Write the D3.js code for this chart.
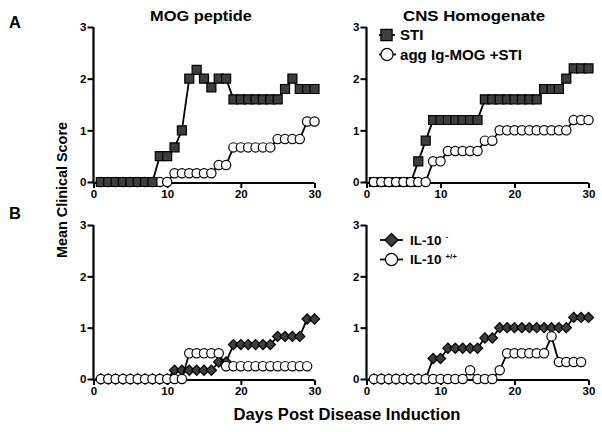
<!DOCTYPE html>
<html><head><meta charset="utf-8">
<script src="https://cdn.jsdelivr.net/npm/d3@7"></script>
<style>body{margin:0;background:#fff}svg{display:block}text{font-family:"Liberation Sans",Arial,sans-serif;font-weight:bold}</style>
</head><body>
<svg id="c" width="602" height="432"></svg>
<script>
// Data (days post induction, mean clinical score)
const days30 = [1,2,3,4,5,6,7,8,9,10,11,12,13,14,15,16,17,18,19,20,21,22,23,24,25,26,27,28,29,30];
const days29 = [1,2,3,4,5,6,7,8,9,10,11,12,13,14,15,16,17,18,19,20,21,22,23,24,25,26,27,28,29];
const mogSTI = [0,0,0,0,0,0,0,0,0.5,0.5,0.67,1.0,2.0,2.17,2.0,1.83,2.0,2.0,1.6,1.6,1.6,1.6,1.6,1.6,1.6,1.8,2.0,1.8,1.8,1.8];
const mogAgg = [0,0,0,0,0,0,0,0,0,0,0.17,0.17,0.17,0.17,0.17,0.17,0.33,0.33,0.67,0.67,0.67,0.67,0.67,0.67,0.83,0.83,0.83,0.83,1.17,1.17];
const cnsSTI = [0,0,0,0,0,0,0.4,0.8,1.2,1.2,1.2,1.2,1.2,1.2,1.2,1.6,1.6,1.6,1.6,1.6,1.6,1.6,1.6,1.8,1.8,1.8,2.0,2.2,2.2,2.2];
const cnsAgg = [0,0,0,0,0,0,0,0,0.4,0.4,0.6,0.6,0.6,0.6,0.6,0.8,0.8,1.0,1.0,1.0,1.0,1.0,1.0,1.0,1.0,1.0,1.0,1.2,1.2,1.2];
const mogKO = [0,0,0,0,0,0,0,0,0,0,0.17,0.17,0.17,0.17,0.17,0.17,0.33,0.33,0.67,0.67,0.67,0.67,0.67,0.67,0.83,0.83,0.83,0.83,1.17,1.17];
const mogWT = [0,0,0,0,0,0,0,0,0,0,0,0,0.5,0.5,0.5,0.5,0.5,0.25,0.25,0.25,0.25,0.25,0.25,0.25,0.25,0.25,0.25,0.25,0.25];
const cnsKO = [0,0,0,0,0,0,0,0,0.4,0.4,0.6,0.6,0.6,0.6,0.6,0.8,0.8,1.0,1.0,1.0,1.0,1.0,1.0,1.0,1.0,1.0,1.0,1.2,1.2,1.2];
const cnsWT = [0,0,0,0,0,0,0,0,0,0,0,0,0,0.17,0,0,0,0.17,0.5,0.5,0.5,0.5,0.5,0.5,0.83,0.33,0.33,0.33,0.33];
const xTicks = [0,10,20,30];
const yTicks = [0,1,2,3];
const columnTitles = ["MOG peptide","CNS Homogenate"];
const legendA = ["STI","agg Ig-MOG +STI"];
const legendB = ["IL-10","IL-10"];
const legendBsup = ["-","+/+"];

const svg = d3.select("#c");
const FILL = "#3d3d3d";

const SQ = {path: d3.symbol().type(d3.symbolSquare).size(81)(), rot: 0, fill: FILL};
const CI = {path: d3.symbol().type(d3.symbolCircle).size(68)(), rot: 0, fill: "#fff"};
const DI = {path: d3.symbol().type(d3.symbolSquare).size(52)(), rot: 45, fill: FILL};

function panel(x0, x1, yb, yt, series){
  const x = d3.scaleLinear().domain([0,30]).range([x0,x1]);
  const y = d3.scaleLinear().domain([0,3]).range([yb,yt]);
  const g = svg.append("g");
  const ya = g.append("g").attr("transform",`translate(${x0},0)`)
    .call(d3.axisLeft(y).tickValues(yTicks).tickFormat(d3.format("d")).tickSize(6).tickPadding(1));
  const xa = g.append("g").attr("transform",`translate(0,${yb+1})`)
    .call(d3.axisBottom(x).tickValues(xTicks).tickFormat(d3.format("d")).tickSize(5).tickPadding(2));
  [ya,xa].forEach(a=>{
    a.select(".domain").attr("stroke","#000").attr("stroke-width",2.2);
    a.selectAll(".tick line").attr("stroke","#000").attr("stroke-width",2);
    a.selectAll("text").attr("font-size",11.5).attr("fill","#000").style("font-family","'Liberation Sans',Arial,sans-serif").style("font-weight","bold");
  });
  xa.select(".domain").attr("d",`M${x0},0H${x1}`);
  ya.select(".domain").attr("d",`M0,${yb+1}V${yt}`);
  series.forEach(s=>{
    const pts = s.days.map((d,i)=>[d,s.vals[i]]);
    g.append("path").attr("d", d3.line().x(d=>x(d[0])).y(d=>y(d[1]))(pts))
      .attr("fill","none").attr("stroke","#000").attr("stroke-width",1.8);
    g.selectAll(null).data(pts).join("path")
      .attr("d", s.m.path)
      .attr("transform", d=>`translate(${x(d[0])},${y(d[1])}) rotate(${s.m.rot})`)
      .attr("fill", s.m.fill).attr("stroke","#000").attr("stroke-width",1.2);
  });
}

panel(93.5, 314.5, 182, 27, [{days:days30, vals:mogAgg, m:CI},{days:days30, vals:mogSTI, m:SQ}]);
panel(366.5, 588.5, 182, 27, [{days:days30, vals:cnsSTI, m:SQ},{days:days30, vals:cnsAgg, m:CI}]);
panel(93.5, 314.5, 379, 225, [{days:days30, vals:mogKO, m:DI},{days:days29, vals:mogWT, m:CI}]);
panel(366.5, 588.5, 379, 225, [{days:days30, vals:cnsKO, m:DI},{days:days29, vals:cnsWT, m:CI}]);

// legends
function legendItem(cx, cy, m, scale, label, sup, lx0, lx1, tx, fs, tl){
  svg.append("line").attr("x1",lx0).attr("x2",lx1).attr("y1",cy).attr("y2",cy).attr("stroke","#000").attr("stroke-width",1.8);
  svg.append("path").attr("d", m.path).attr("transform",`translate(${cx},${cy}) rotate(${m.rot}) scale(${scale})`)
    .attr("fill",m.fill).attr("stroke","#000").attr("stroke-width",1.2/scale);
  const t = svg.append("text").attr("x",tx).attr("y",cy+fs*0.36).attr("font-size",fs).text(label);
  if(tl) t.attr("textLength",tl).attr("lengthAdjust","spacingAndGlyphs");
  if(sup) svg.append("text").attr("x",tx+fs*2.4+3).attr("y",cy-1).attr("font-size",8).text(sup);
}
legendItem(386.5, 35, SQ, 1.25, legendA[0], null, 379, 395, 400, 15, null);
legendItem(387, 54.5, CI, 1.3, legendA[1], null, 379, 396, 400, 15, 122);
legendItem(391.5, 240, DI, 1.3, legendB[0], legendBsup[0], 380, 403, 410, 13.5, null);
legendItem(391.5, 259.5, CI, 1.3, legendB[1], legendBsup[1], 380, 403, 410, 13.5, null);

// titles
function title(x, y, txt, fs, tl, rot){
  const t = svg.append("text").attr("text-anchor","middle").attr("font-size",fs).text(txt)
    .attr("textLength",tl).attr("lengthAdjust","spacingAndGlyphs");
  if(rot) t.attr("transform",`translate(${x},${y}) rotate(${rot})`);
  else t.attr("x",x).attr("y",y);
}
title(201, 21, columnTitles[0], 15, 102);
title(474, 21, columnTitles[1], 15, 142);
svg.append("text").attr("x",15).attr("y",28).attr("text-anchor","middle").attr("font-size",16.5).text("A");
svg.append("text").attr("x",15).attr("y",219).attr("text-anchor","middle").attr("font-size",16.5).text("B");
title(67, 190, "Mean Clinical Score", 15, 136, -90);
title(347, 420, "Days Post Disease Induction", 16, 227);
</script>
</body></html>
